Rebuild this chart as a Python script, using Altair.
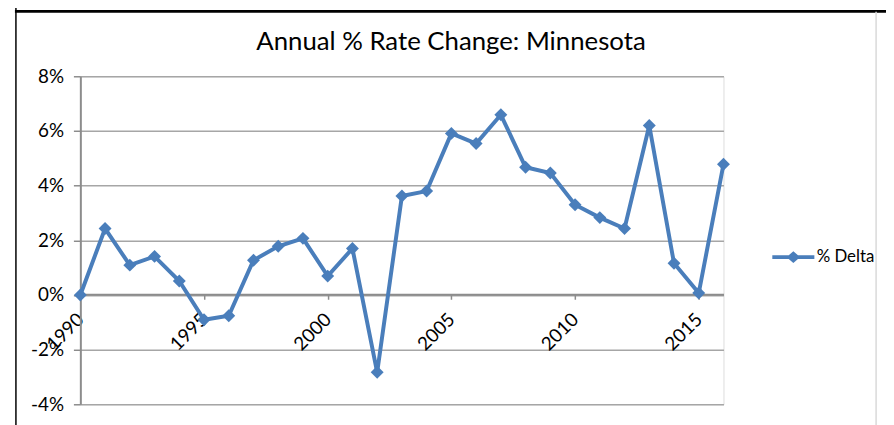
import altair as alt
import pandas as pd

years = list(range(1990, 2017))
delta = [0.00, 2.43, 1.09, 1.41, 0.51, -0.91, -0.76, 1.27, 1.78, 2.07,
         0.69, 1.70, -2.83, 3.62, 3.80, 5.91, 5.54, 6.59, 4.67, 4.46,
         3.30, 2.83, 2.43, 6.20, 1.16, 0.07, 4.78]
series_name = "% Delta"
title_text = "Annual % Rate Change: Minnesota"
x_ticks = [1990, 1995, 2000, 2005, 2010, 2015]
y_ticks = [-4, -2, 0, 2, 4, 6, 8]

df = pd.DataFrame({"year": years, "delta": delta, "series": [series_name] * len(years)})

W, H = 649, 331
FONT = "Lato"
BLUE = "#4a7ebb"
GRAY = "#8c8c8c"

x_enc = alt.X("year:Q",
              scale=alt.Scale(domain=[1990, 2016], nice=False, zero=False),
              axis=alt.Axis(values=x_ticks, format="d", title=None, grid=False,
                            offset=-111, domainColor=GRAY, domainWidth=2,
                            tickColor=GRAY, tickWidth=1.5, tickSize=5,
                            labelAngle=-45, labelAlign="right", labelBaseline="middle",
                            labelPadding=17, labelFont=FONT, labelFontSize=19,
                            labelColor="#000000", labelOverlap=False,
                            labelFlush=False))
y_enc = alt.Y("delta:Q",
              scale=alt.Scale(domain=[-4, 8], nice=False),
              axis=alt.Axis(values=y_ticks, labelExpr="datum.value + '%'", title=None,
                            grid=True, gridColor="#a6a6a6", gridWidth=1.5,
                            domainColor=GRAY, domainWidth=2,
                            tickColor=GRAY, tickWidth=1.5, tickSize=7,
                            labelPadding=10, labelFont=FONT, labelFontSize=19,
                            labelColor="#000000"))

base = alt.Chart(df)

line = base.mark_line(color=BLUE, strokeWidth=4).encode(x=x_enc, y=y_enc)

legend_path = ("M-1,-0.09L-0.22,-0.09L0,-0.28L0.22,-0.09L1,-0.09L1,0.09"
               "L0.22,0.09L0,0.28L-0.22,0.09L-1,0.09Z")

points = base.mark_point(shape="diamond", filled=True, size=170, opacity=1).encode(
    x=x_enc, y=y_enc,
    color=alt.Color("series:N",
                    scale=alt.Scale(range=[BLUE]),
                    legend=alt.Legend(title=None, orient="none", legendX=698, legendY=161,
                                      symbolType=legend_path, symbolSize=1800,
                                      symbolFillColor=BLUE, symbolStrokeWidth=0,
                                      labelFont=FONT, labelFontSize=17,
                                      labelColor="#000000", labelOffset=2)),
)

frame_df = pd.DataFrame({"k": [0]})
left_line = alt.Chart(frame_df).mark_rule(color="#000000", strokeWidth=1.5).encode(
    x=alt.value(-65), y=alt.value(-80), y2=alt.value(H + 30))
top_line = alt.Chart(frame_df).mark_rule(color="#000000", strokeWidth=3).encode(
    x=alt.value(-66), x2=alt.value(820), y=alt.value(-65.5))
right_line = alt.Chart(frame_df).mark_rule(color="#d9d9d9", strokeWidth=1.5).encode(
    x=alt.value(803), y=alt.value(-65), y2=alt.value(H + 30))
title = alt.Chart(frame_df).mark_text(font=FONT, fontSize=26, color="#000000",
                                      align="center", baseline="alphabetic").encode(
    x=alt.value(374), y=alt.value(-27), text=alt.value(title_text))

chart = alt.layer(left_line, top_line, right_line, title, line, points).properties(
    width=W, height=H,
    padding={"left": 73, "top": 67, "right": 164, "bottom": 19},
    autosize=alt.AutoSizeParams(type="none"),
).configure_view(stroke=None).configure(background="#ffffff")

chart.save("out.html", embed_options={"renderer": "svg", "actions": False})
